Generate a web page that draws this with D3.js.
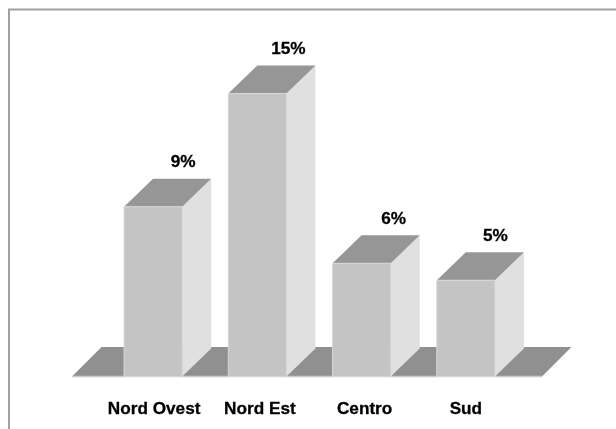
<!DOCTYPE html>
<html><head><meta charset="utf-8">
<script src="https://cdn.jsdelivr.net/npm/d3@7"></script>
<style>html,body{margin:0;padding:0;background:#fff}svg{display:block}
text{font-family:"Liberation Sans",Arial,sans-serif;font-weight:700;font-size:17.2px;fill:#000;stroke:#000;stroke-width:.3px}</style>
</head><body><svg id="c" width="616" height="429"></svg>
<script>
const categories = ["Nord Ovest","Nord Est","Centro","Sud"];
const values = [9, 15, 6, 5.1];
const valueLabels = ["9%","15%","6%","5%"];

const svg = d3.select("#c");
const W=616,H=429, depthX=29, depthY=28, floorDepth=29.5;
const x = d3.scaleBand().domain(categories).range([101.5,517.5]).paddingInner(46/104).paddingOuter(22.5/104);
const y = d3.scaleLinear().domain([0,15]).range([376.5,93.5]);
const nudge = d3.scaleOrdinal().domain(categories).range([1,2.5,3,0]);
const valueNudge = d3.scaleOrdinal().domain(categories).range([1,2,3,0.5]);

const soft = svg.append("defs").append("filter").attr("id","soft");
soft.append("feGaussianBlur").attr("stdDeviation",0.45);
const g = svg.append("g").attr("filter","url(#soft)");

// frame
g.append("path").attr("d",`M9,${H+4}V9.5H${W+4}`).attr("fill","none").attr("stroke","#a0a0a0").attr("stroke-width",2);

// floor
const fl=72, fr=542, y0=y(0);
const line=d3.line();
g.append("path").attr("d",line([[fl,y0],[fl+floorDepth,y0-floorDepth],[fr+floorDepth,y0-floorDepth],[fr,y0]])+"Z").attr("fill","#909090");
g.append("line").attr("x1",fl).attr("x2",fr).attr("y1",y0).attr("y2",y0).attr("stroke","#c8c8c8").attr("stroke-width",1.5);

const bars=g.selectAll("g.bar").data(categories.map((c,i)=>({c,v:values[i],l:valueLabels[i]}))).join("g").attr("class","bar");
bars.append("path").attr("d",d=>{const a=x(d.c)+x.bandwidth(),t=y(d.v);return line([[a,y0],[a+depthX,y0-depthY],[a+depthX,t-depthY],[a,t]])+"Z"}).attr("fill","#e0e0e0");
bars.append("path").attr("d",d=>{const a=x(d.c),b=a+x.bandwidth(),t=y(d.v);return line([[a,t],[a+depthX,t-depthY],[b+depthX,t-depthY],[b,t]])+"Z"}).attr("fill","#969696");
bars.append("rect").attr("x",d=>x(d.c)).attr("y",d=>y(d.v)).attr("width",x.bandwidth()).attr("height",d=>y0-y(d.v)).attr("fill","#c4c4c4").attr("stroke","#d8d8d8").attr("stroke-width",1);
bars.append("text").attr("x",d=>x(d.c)+x.bandwidth()+valueNudge(d.c)).attr("y",d=>y(d.v)-depthY-11.5).attr("text-anchor","middle").text(d=>d.l);
g.selectAll("text.cat").data(categories).join("text").attr("class","cat").attr("x",d=>x(d)+x.bandwidth()/2+nudge(d)).attr("y",413.5).attr("text-anchor","middle").text(d=>d);
</script></body></html>
